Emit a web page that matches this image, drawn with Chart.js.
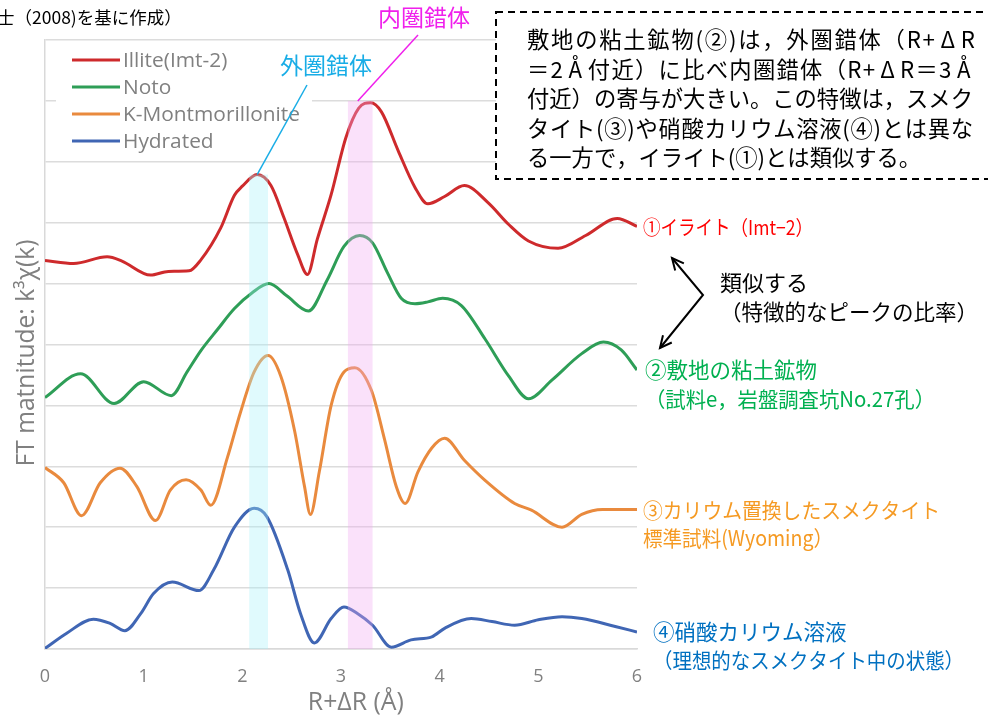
<!DOCTYPE html>
<html><head><meta charset="utf-8">
<script src="https://cdn.jsdelivr.net/npm/chart.js@4.4.1/dist/chart.umd.min.js"></script>
<style>html,body{margin:0;padding:0;background:#fff;overflow:hidden}#wrap{width:988px;height:716px;position:relative}</style>
</head><body><div id="wrap"><canvas id="c" width="988" height="716"></canvas></div>
<script>
// ---- data ----
const xTicks = [0, 1, 2, 3, 4, 5, 6];
const seriesNames = ['Illite(Imt-2)', 'Noto', 'K-Montmorillonite', 'Hydrated'];

const illiteX = [0, 0.29, 0.63, 0.78, 1.07, 1.25, 1.46, 1.58, 1.78, 1.92, 2.0, 2.15, 2.29, 2.42, 2.56, 2.66, 2.76, 2.9, 3.05, 3.18, 3.3, 3.41, 3.58, 3.75, 3.88, 4.05, 4.25, 4.49, 4.7, 4.9, 5.2, 5.48, 5.8, 6.0];
const illiteY = [6.38, 6.33, 6.44, 6.37, 6.14, 6.2, 6.21, 6.39, 6.91, 7.45, 7.6, 7.79, 7.61, 7.09, 6.48, 6.15, 6.73, 7.46, 8.4, 8.88, 8.97, 8.82, 8.18, 7.58, 7.31, 7.43, 7.61, 7.33, 6.97, 6.70, 6.58, 6.79, 7.07, 6.94];

const notoX = [0, 0.36, 0.70, 1.0, 1.28, 1.44, 1.58, 1.75, 1.92, 2.1, 2.27, 2.45, 2.67, 2.86, 3.03, 3.19, 3.32, 3.47, 3.61, 3.75, 3.88, 4.03, 4.22, 4.46, 4.7, 4.9, 5.14, 5.44, 5.66, 5.84, 6.0];
const notoY = [4.13, 4.52, 4.03, 4.39, 4.16, 4.55, 4.9, 5.25, 5.59, 5.85, 6.0, 5.8, 5.55, 6.06, 6.61, 6.79, 6.67, 6.18, 5.76, 5.67, 5.7, 5.76, 5.64, 5.09, 4.48, 4.11, 4.42, 4.85, 5.04, 4.91, 4.58];

const kmontX = [0, 0.19, 0.37, 0.56, 0.76, 0.93, 1.12, 1.27, 1.43, 1.58, 1.68, 1.85, 1.98, 2.12, 2.26, 2.39, 2.53, 2.63, 2.69, 2.78, 2.9, 3.03, 3.14, 3.31, 3.44, 3.56, 3.65, 3.78, 3.92, 4.05, 4.25, 4.46, 4.76, 4.93, 5.24, 5.44, 5.65, 6.0];
const kmontY = [2.98, 2.73, 2.19, 2.73, 2.97, 2.67, 2.11, 2.61, 2.78, 2.61, 2.36, 3.15, 3.88, 4.55, 4.82, 4.48, 3.58, 2.67, 2.21, 2.91, 4.0, 4.55, 4.62, 4.24, 3.45, 2.67, 2.39, 2.91, 3.30, 3.46, 3.1, 2.77, 2.39, 2.28, 2.0, 2.21, 2.29, 2.29];

const hydX = [0, 0.22, 0.49, 0.66, 0.81, 0.97, 1.10, 1.29, 1.56, 1.71, 1.92, 2.12, 2.25, 2.46, 2.59, 2.73, 2.9, 3.03, 3.17, 3.32, 3.51, 3.71, 3.92, 4.05, 4.32, 4.53, 4.76, 5.0, 5.24, 5.44, 5.78, 6.0];
const hydY = [0.01, 0.26, 0.49, 0.42, 0.30, 0.58, 0.91, 1.10, 0.96, 1.30, 2.0, 2.31, 2.17, 1.30, 0.58, 0.10, 0.5, 0.69, 0.58, 0.39, 0.03, 0.15, 0.20, 0.34, 0.50, 0.45, 0.39, 0.48, 0.53, 0.50, 0.37, 0.28];

// highlighted bands (x range, top value)
const outerBand = [2.07, 2.26, 7.79];
const innerBand = [3.07, 3.32, 9.0];

// ---- styles ----
const colors = ['#CE2A2C', '#2E9E57', '#E98A3E', '#4066B4'];
const UI = "'Open Sans', 'Noto Sans', sans-serif";
const JP = "'Noto Sans CJK JP', 'Noto Sans', sans-serif";

function pts(xs, ys) { return xs.map((x, i) => ({ x: x, y: ys[i] })); }
const seriesData = [pts(illiteX, illiteY), pts(notoX, notoY), pts(kmontX, kmontY), pts(hydX, hydY)];

function fitSize(ctx, text, family, target, base) {
  ctx.font = base + 'px ' + family;
  return base * target / ctx.measureText(text).width;
}
function label(ctx, text, x, cy, color, size, maxW) {
  ctx.font = size + 'px ' + JP;
  ctx.fillStyle = color;
  ctx.textAlign = 'left';
  ctx.textBaseline = 'middle';
  if (maxW) ctx.fillText(text, x, cy, maxW); else ctx.fillText(text, x, cy);
}
// draws text where some glyphs take a full em cell, spread to a target width
function cellText(ctx, text, x, cy, size, wide, target) {
  ctx.font = size + 'px ' + JP;
  ctx.textBaseline = 'middle';
  const chars = Array.from(text);
  const widths = chars.map(ch => wide.includes(ch) ? size : ctx.measureText(ch).width);
  const natural = widths.reduce((a, b) => a + b, 0);
  const extra = target ? Math.max(0, (target - natural) / (chars.length - 1)) : 0;
  let cx = x;
  chars.forEach((ch, i) => {
    if (wide.includes(ch)) { ctx.textAlign = 'center'; ctx.fillText(ch, cx + size / 2, cy); }
    else { ctx.textAlign = 'left'; ctx.fillText(ch, cx, cy); }
    cx += widths[i] + extra;
  });
  ctx.textAlign = 'left';
}
function arrowHead(ctx, fx, fy, tx, ty, len) {
  const a = Math.atan2(ty - fy, tx - fx);
  ctx.beginPath();
  ctx.moveTo(tx - len * Math.cos(a - 0.45), ty - len * Math.sin(a - 0.45));
  ctx.lineTo(tx, ty);
  ctx.lineTo(tx - len * Math.cos(a + 0.45), ty - len * Math.sin(a + 0.45));
  ctx.stroke();
}

const decor = {
  id: 'decor',
  beforeDraw(chart) {
    const ctx = chart.ctx;
    ctx.save(); ctx.fillStyle = '#fff'; ctx.fillRect(0, 0, chart.width, chart.height); ctx.restore();
  },
  afterDatasetsDraw(chart) {
    const ctx = chart.ctx, xs = chart.scales.x, ys = chart.scales.y, area = chart.chartArea;
    ctx.save();
    // bands over the curves
    const drawBand = (b, fill) => {
      const x0 = xs.getPixelForValue(b[0]), x1 = xs.getPixelForValue(b[1]);
      const yt = ys.getPixelForValue(b[2]);
      ctx.fillStyle = fill;
      ctx.fillRect(x0, yt, x1 - x0, area.bottom - yt);
    };
    drawBand(outerBand, 'rgba(166,241,249,0.35)');
    drawBand(innerBand, 'rgba(241,169,241,0.35)');

    // legend inside plot (from datasets)
    ctx.fillStyle = '#fff';
    ctx.fillRect(56, 44, 256, 110);
    const ls = fitSize(ctx, 'K-Montmorillonite', UI, 177, 18);
    chart.data.datasets.forEach((ds, i) => {
      const cy = 60 + i * 27;
      ctx.strokeStyle = ds.borderColor; ctx.lineWidth = 3;
      ctx.beginPath(); ctx.moveTo(72, cy); ctx.lineTo(120, cy); ctx.stroke();
      ctx.font = ls.toFixed(2) + 'px ' + UI;
      ctx.fillStyle = '#808080'; ctx.textAlign = 'left'; ctx.textBaseline = 'middle';
      ctx.fillText(ds.label, 123, cy + 1);
    });

    // callouts
    ctx.lineWidth = 1.5;
    ctx.strokeStyle = '#19ADE6';
    ctx.beginPath();
    ctx.moveTo(xs.getPixelForValue(2.15), ys.getPixelForValue(7.79));
    ctx.lineTo(307, 85); ctx.stroke();
    label(ctx, '外圏錯体', 280, 65, '#19ADE6', 23, 98);
    ctx.strokeStyle = '#F020EC';
    ctx.beginPath();
    ctx.moveTo(xs.getPixelForValue(3.17), ys.getPixelForValue(9.0));
    ctx.lineTo(418, 35); ctx.stroke();
    label(ctx, '内圏錯体', 378, 17, '#F020EC', 23, 97);

    // dashed note box
    ctx.fillStyle = '#fff';
    ctx.fillRect(496, 12, 500, 167);
    ctx.strokeStyle = '#000'; ctx.lineWidth = 2; ctx.setLineDash([7, 5]);
    ctx.strokeRect(496, 12, 500, 167);
    ctx.setLineDash([]);
    const note = ['敷地の粘土鉱物(②)は，外圏錯体（R+ΔR', '＝2Å付近）に比べ内圏錯体（R+ΔR＝3Å', '付近）の寄与が大きい。この特徴は，スメク', 'タイト(③)や硝酸カリウム溶液(④)とは異な', 'る一方で，イライト(①)とは類似する。'];
    const noteW = [448, 448, 445, 446, 375];
    ctx.fillStyle = '#000';
    note.forEach((t, i) => cellText(ctx, t, 527, 40 + i * 29.5, 22.3, 'ΔÅ', noteW[i]));

    // right-side series labels
    label(ctx, '①イライト（Imt−2）', 643, 227, '#FF0000', 20, 170);
    label(ctx, '類似する', 720, 283, '#000', 22, 95);
    label(ctx, '（特徴的なピークの比率）', 720, 312, '#000', 21.5, 262);
    label(ctx, '②敷地の粘土鉱物', 645, 370, '#00B050', 21.5, 182);
    label(ctx, '（試料e，岩盤調査坑No.27孔）', 645, 399, '#00B050', 21, 290);
    label(ctx, '③カリウム置換したスメクタイト', 643, 510, '#F59A23', 21, 297);
    label(ctx, '標準試料(Wyoming）', 643, 538, '#F59A23', 21, 190);
    label(ctx, '④硝酸カリウム溶液', 653, 632, '#0070C0', 21.5, 197);
    label(ctx, '（理想的なスメクタイト中の状態）', 653, 660, '#0070C0', 21, 311);

    // similarity arrow
    ctx.strokeStyle = '#000'; ctx.lineWidth = 2;
    ctx.beginPath(); ctx.moveTo(672, 258); ctx.lineTo(703, 295); ctx.lineTo(660, 348); ctx.stroke();
    arrowHead(ctx, 703, 295, 672, 258, 13);
    arrowHead(ctx, 703, 295, 660, 348, 13);

    // source note (top-left, clipped)
    label(ctx, '士（2008)を基に作成）', -3, 17, '#000', 17.5, 186);

    // axis titles
    ctx.fillStyle = '#808080';
    const ts = fitSize(ctx, 'R+ΔR (Å)', UI, 96, 19);
    ctx.font = ts.toFixed(2) + 'px ' + UI;
    ctx.textAlign = 'center'; ctx.textBaseline = 'middle';
    ctx.fillText('R+ΔR (Å)', xs.getPixelForValue(3.15), 703);
    const yt = 'FT matnitude: k³χ(k)';
    const ys2 = fitSize(ctx, yt, UI, 227, 19);
    ctx.save();
    ctx.translate(27, 353); ctx.rotate(-Math.PI / 2);
    ctx.font = ys2.toFixed(2) + 'px ' + UI;
    ctx.fillText(yt, 0, 0);
    ctx.restore();
    ctx.restore();
  }
};

new Chart(document.getElementById('c'), {
  type: 'line',
  data: {
    datasets: seriesNames.map((n, i) => ({
      label: n, data: seriesData[i], borderColor: colors[i], backgroundColor: colors[i],
      borderWidth: 3, pointRadius: 0, fill: false, cubicInterpolationMode: 'monotone'
    }))
  },
  options: {
    responsive: false, animation: false, devicePixelRatio: 1,
    layout: { padding: { top: 40, right: 351, left: 0, bottom: 0 } },
    plugins: { legend: { display: false }, tooltip: { enabled: false } },
    scales: {
      x: {
        type: 'linear', min: xTicks[0], max: xTicks[xTicks.length - 1],
        afterBuildTicks: s => { s.ticks = xTicks.map(v => ({ value: v })); },
        ticks: { color: '#808080', font: { family: UI, size: 18 }, padding: 17, maxRotation: 0 },
        grid: { display: false, drawTicks: false },
        border: { display: true, color: '#d9d9d9', width: 1.5 },
        afterFit: s => { s.height = 67; }
      },
      y: {
        min: 0, max: 10,
        ticks: { display: false, stepSize: 1 },
        grid: { color: '#dcdcdc', lineWidth: 1.5, drawTicks: false },
        border: { display: true, color: '#d9d9d9', width: 1.5 },
        afterFit: s => { s.width = 45; }
      }
    }
  },
  plugins: [decor]
});
</script></body></html>
